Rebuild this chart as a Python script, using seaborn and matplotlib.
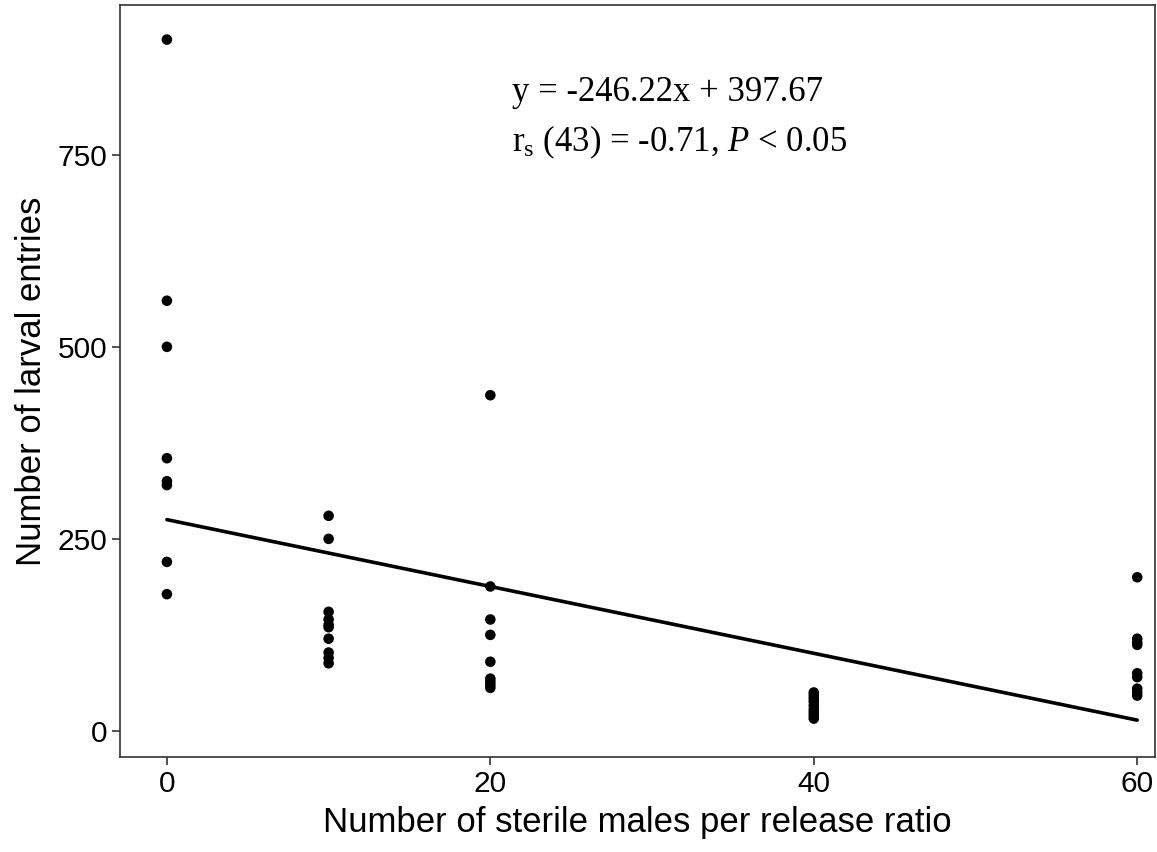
import numpy as np
import pandas as pd
import matplotlib
matplotlib.use("Agg")
import matplotlib.pyplot as plt
import seaborn as sns

# Larval entries observed at each sterile-male release ratio
ratio_0 = [900, 560, 500, 355, 325, 320, 220, 178]
ratio_10 = [280, 250, 155, 145, 138, 135, 120, 102, 95, 88]
ratio_20 = [437, 188, 145, 125, 90, 68, 64, 60, 56]
ratio_40 = [50, 46, 42, 38, 33, 28, 24, 20, 16]
ratio_60 = [200, 120, 115, 112, 75, 70, 55, 50, 46]
release_ratios = [0, 10, 20, 40, 60]

# Fitted trend line (value at ratio 0 and slope per unit ratio)
trend_intercept = 275
trend_slope = -4.35

equation_text = "y = -246.22x + 397.67"
x_label = "Number of sterile males per release ratio"
y_label = "Number of larval entries"
x_ticks = [0, 20, 40, 60]
y_ticks = [0, 250, 500, 750]

groups = [ratio_0, ratio_10, ratio_20, ratio_40, ratio_60]
df = pd.DataFrame({
    "ratio": np.concatenate([[r] * len(g) for r, g in zip(release_ratios, groups)]),
    "entries": np.concatenate(groups),
})

sns.set_theme(style="white")
plt.rcParams["font.family"] = ["Liberation Sans", "DejaVu Sans"]
plt.rcParams["text.color"] = "black"
plt.rcParams["mathtext.fontset"] = "custom"
plt.rcParams["mathtext.rm"] = "Liberation Serif"
plt.rcParams["mathtext.it"] = "Liberation Serif:italic"

fig = plt.figure(figsize=(11.57, 8.52), dpi=100)
ax = fig.add_axes([120 / 1157, 95 / 852, 1035 / 1157, 752 / 852])

sns.scatterplot(data=df, x="ratio", y="entries", ax=ax, color="black",
                s=58, edgecolor="none", legend=False)

line_x = np.array([min(release_ratios), max(release_ratios)])
ax.plot(line_x, trend_intercept + trend_slope * line_x, color="black", lw=2.6)

ax.set_xlim(-2.9, 61.1)
ax.set_ylim(-34, 945)
ax.set_xticks(x_ticks)
ax.set_yticks(y_ticks)
ax.tick_params(axis="both", which="both", direction="out", length=6, width=1.2,
               color="#333333", labelsize=21.5, labelcolor="black", pad=3,
               bottom=True, left=True)
ax.set_xlabel(x_label, fontsize=25, color="black", labelpad=6)
ax.set_ylabel(y_label, fontsize=25, color="black", labelpad=7)
for sp in ax.spines.values():
    sp.set_visible(True)
    sp.set_color("#333333")
    sp.set_linewidth(1.2)

serif = ["Liberation Serif", "DejaVu Serif"]
ax.text(0.379, 0.884, equation_text, transform=ax.transAxes, fontsize=25,
        family=serif, ha="left", va="center", color="black")
ax.text(0.379, 0.818, r"r$_{\mathregular{s}}$ (43) = -0.71, $\mathit{P}$ < 0.05",
        transform=ax.transAxes, fontsize=25, family=serif, ha="left", va="center",
        color="black")

fig.savefig("out.png", dpi=100)
